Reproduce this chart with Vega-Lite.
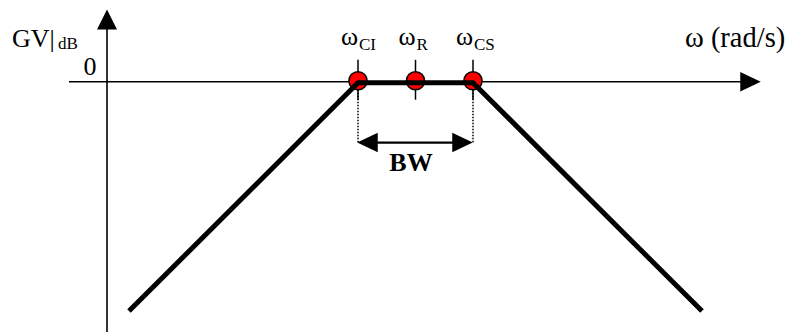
{
  "$schema": "https://vega.github.io/schema/vega-lite/v6.json",
  "width": 790,
  "height": 333,
  "autosize": {"type": "fit", "contains": "padding"},
  "padding": 0,
  "background": "white",
  "config": {"view": {"stroke": null}},
  "datasets": {
    "axes": [
      {"x": 69, "y": 82, "x2": 745, "y2": 82},
      {"x": 107, "y": 333, "x2": 107, "y2": 25}
    ],
    "ticks": [
      {"x": 358, "y": 60, "x2": 358, "y2": 100},
      {"x": 415.5, "y": 60, "x2": 415.5, "y2": 100},
      {"x": 473, "y": 60, "x2": 473, "y2": 100}
    ],
    "dots": [
      {"x": 358, "y": 90, "x2": 358, "y2": 143},
      {"x": 473, "y": 90, "x2": 473, "y2": 143}
    ],
    "bw": [
      {"x": 366, "y": 143, "x2": 464, "y2": 143}
    ],
    "points": [
      {"name": "ωCI", "x": 358, "y": 81},
      {"name": "ωR", "x": 415.5, "y": 81},
      {"name": "ωCS", "x": 473, "y": 81}
    ],
    "response": [
      {"o": 1, "x": 129, "y": 312},
      {"o": 2, "x": 358, "y": 83},
      {"o": 3, "x": 473, "y": 83},
      {"o": 4, "x": 702, "y": 312}
    ],
    "arrowUp": [{"x": 107, "y": 19.5}],
    "arrowRight": [{"x": 750.5, "y": 82}, {"x": 462.5, "y": 143}],
    "arrowLeft": [{"x": 367.5, "y": 143}],
    "labels": [
      {"role": "main", "label": "GV|", "x": 12, "y": 47},
      {"role": "zero", "label": "0", "x": 90, "y": 75},
      {"role": "omega", "label": "ω", "x": 358, "y": 45.5},
      {"role": "omega", "label": "ω", "x": 415.5, "y": 45.5},
      {"role": "omega", "label": "ω", "x": 473, "y": 45.5},
      {"role": "sub", "label": "dB", "x": 58, "y": 49},
      {"role": "sub", "label": "CI", "x": 359, "y": 50},
      {"role": "sub", "label": "R", "x": 416.5, "y": 50},
      {"role": "sub", "label": "CS", "x": 474, "y": 50},
      {"role": "unit", "label": "ω (rad/s)", "x": 685, "y": 47},
      {"role": "bw", "label": "BW", "x": 411, "y": 172}
    ]
  },
  "encoding": {
    "x": {"field": "x", "type": "quantitative", "scale": {"domain": [0, 790], "nice": false, "zero": false}, "axis": null},
    "y": {"field": "y", "type": "quantitative", "scale": {"domain": [333, 0], "nice": false, "zero": false}, "axis": null}
  },
  "layer": [
    {
      "data": {"name": "axes"},
      "mark": {"type": "rule", "color": "black", "strokeWidth": 1.6},
      "encoding": {"x2": {"field": "x2"}, "y2": {"field": "y2"}}
    },
    {
      "data": {"name": "ticks"},
      "mark": {"type": "rule", "color": "black", "strokeWidth": 1.5},
      "encoding": {"x2": {"field": "x2"}, "y2": {"field": "y2"}}
    },
    {
      "data": {"name": "dots"},
      "mark": {"type": "rule", "color": "black", "strokeWidth": 1.5, "strokeDash": [1.5, 1.5]},
      "encoding": {"x2": {"field": "x2"}, "y2": {"field": "y2"}}
    },
    {
      "data": {"name": "bw"},
      "mark": {"type": "rule", "color": "black", "strokeWidth": 2.2},
      "encoding": {"x2": {"field": "x2"}, "y2": {"field": "y2"}}
    },
    {
      "data": {"name": "points"},
      "mark": {"type": "point", "shape": "circle", "filled": true, "fill": "#ff0000", "stroke": "black", "strokeWidth": 1.5, "size": 330, "opacity": 1}
    },
    {
      "data": {"name": "response"},
      "mark": {"type": "line", "color": "black", "strokeWidth": 5, "strokeJoin": "miter"},
      "encoding": {"order": {"field": "o", "type": "quantitative"}}
    },
    {
      "data": {"name": "arrowUp"},
      "mark": {"type": "point", "shape": "M-1,1L0,-1L1,1Z", "filled": true, "color": "black", "size": 400, "opacity": 1}
    },
    {
      "data": {"name": "arrowRight"},
      "mark": {"type": "point", "shape": "M-1,-0.95L1,0L-1,0.95Z", "filled": true, "color": "black", "size": 420, "opacity": 1}
    },
    {
      "data": {"name": "arrowLeft"},
      "mark": {"type": "point", "shape": "M1,-0.95L-1,0L1,0.95Z", "filled": true, "color": "black", "size": 420, "opacity": 1}
    },
    {
      "data": {"name": "labels"},
      "transform": [{"filter": "datum.role === 'main'"}],
      "mark": {"type": "text", "font": "Liberation Serif", "fontSize": 26, "align": "left", "baseline": "alphabetic", "color": "black"},
      "encoding": {"text": {"field": "label"}}
    },
    {
      "data": {"name": "labels"},
      "transform": [{"filter": "datum.role === 'zero'"}],
      "mark": {"type": "text", "font": "Liberation Serif", "fontSize": 26, "align": "center", "baseline": "alphabetic", "color": "black"},
      "encoding": {"text": {"field": "label"}}
    },
    {
      "data": {"name": "labels"},
      "transform": [{"filter": "datum.role === 'omega'"}],
      "mark": {"type": "text", "font": "Liberation Serif", "fontSize": 26, "align": "right", "baseline": "alphabetic", "color": "black"},
      "encoding": {"text": {"field": "label"}}
    },
    {
      "data": {"name": "labels"},
      "transform": [{"filter": "datum.role === 'sub'"}],
      "mark": {"type": "text", "font": "Liberation Serif", "fontSize": 17, "align": "left", "baseline": "alphabetic", "color": "black"},
      "encoding": {"text": {"field": "label"}}
    },
    {
      "data": {"name": "labels"},
      "transform": [{"filter": "datum.role === 'unit'"}],
      "mark": {"type": "text", "font": "Liberation Serif", "fontSize": 28.5, "align": "left", "baseline": "alphabetic", "color": "black"},
      "encoding": {"text": {"field": "label"}}
    },
    {
      "data": {"name": "labels"},
      "transform": [{"filter": "datum.role === 'bw'"}],
      "mark": {"type": "text", "font": "Liberation Serif", "fontSize": 26, "fontWeight": "bold", "align": "center", "baseline": "alphabetic", "color": "black"},
      "encoding": {"text": {"field": "label"}}
    }
  ]
}
